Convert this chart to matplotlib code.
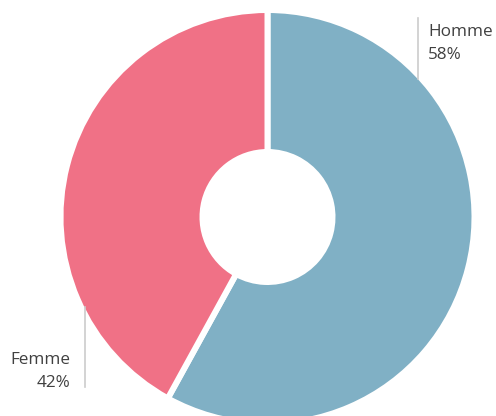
import numpy as np
import matplotlib.pyplot as plt

# gender split
labels = ["Homme", "Femme"]
shares = [58, 42]
colors = ["#80B0C5", "#F07186"]

W, H = 496, 416
cx, cy = 267.5, H - 217
r_out, r_in = 204, 68
gap = 6  # white gap between slices, px

fig = plt.figure(figsize=(W / 100, H / 100), dpi=100)
ax = fig.add_axes([0, 0, 1, 1])

# the white edge eats gap/2 on every side, so pad the radii
ax.pie(shares, colors=colors, startangle=90, counterclock=False,
       center=(cx, cy), radius=r_out + gap / 2, frame=True,
       wedgeprops=dict(width=r_out - r_in + gap, edgecolor="white",
                       linewidth=gap * 0.72, joinstyle="round"))
ax.set_xlim(0, W)
ax.set_ylim(0, H)
ax.set_aspect("equal")
ax.axis("off")

# leader lines run from the outer rim straight to the labels
def rim_y(x, upper):
    dy = np.sqrt(r_out ** 2 - (x - cx) ** 2)
    return cy + dy if upper else cy - dy

txt = dict(fontsize=12.3, color="#404040",
           family=["Open Sans", "DejaVu Sans"], va="baseline")

x_h = 418
ax.plot([x_h, x_h], [rim_y(x_h, True), H - 18], color="#cccccc", lw=1.2)
ax.text(x_h + 10, H - 36, labels[0], ha="left", **txt)
ax.text(x_h + 10, H - 59, f"{shares[0]}%", ha="left", **txt)

x_f = 84.5
ax.plot([x_f, x_f], [rim_y(x_f, False), H - 387], color="#cccccc", lw=1.2)
ax.text(x_f - 14, H - 364, labels[1], ha="right", **txt)
ax.text(x_f - 14, H - 387, f"{shares[1]}%", ha="right", **txt)

fig.savefig("out.png", dpi=100)
